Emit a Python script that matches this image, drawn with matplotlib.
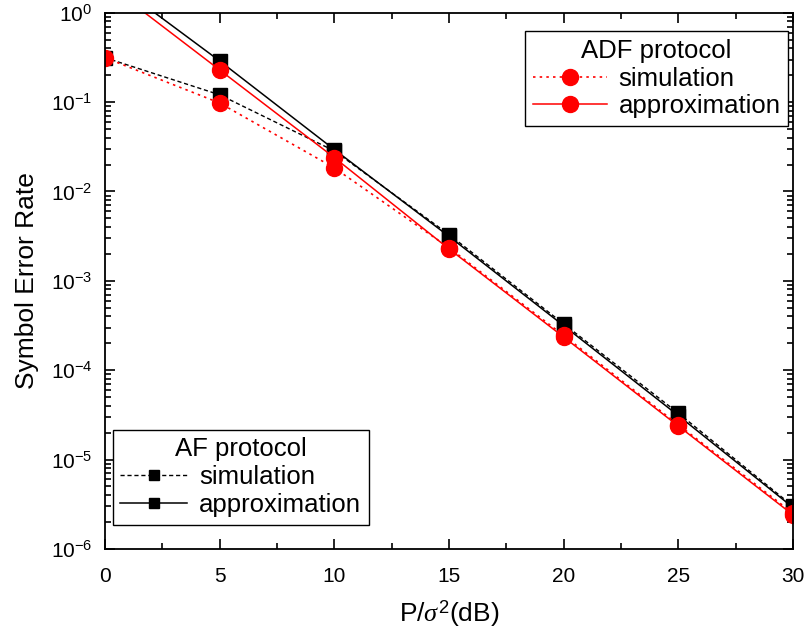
import matplotlib
matplotlib.use('Agg')
import matplotlib.pyplot as plt
from matplotlib.ticker import MultipleLocator, LogLocator, NullFormatter, FixedLocator

plt.rcParams['font.family'] = ['Liberation Sans', 'DejaVu Sans']
plt.rcParams['mathtext.fontset'] = 'custom'
plt.rcParams['mathtext.rm'] = 'Liberation Sans'
plt.rcParams['mathtext.it'] = 'Liberation Serif:italic'

snr = [0, 5, 10, 15, 20, 25, 30]
af_sim = [0.315, 0.121, 0.0285, 3.3e-3, 3.3e-4, 3.3e-5, 3.0e-6]
af_approx = [2.6, 0.29, 0.0295, 3.15e-3, 3.15e-4, 3.1e-5, 2.9e-6]
adf_sim = [0.315, 0.098, 0.0184, 2.35e-3, 2.45e-4, 2.45e-5, 2.5e-6]
adf_approx = [2.2, 0.23, 0.024, 2.28e-3, 2.35e-4, 2.37e-5, 2.4e-6]
decades = range(-6, 1)

fig = plt.figure(figsize=(8.06, 6.39), dpi=100)
ax = fig.add_axes([0.130, 0.141, 0.854, 0.839])

l1, = ax.plot(snr, af_sim, color='black', ls=(0, (3, 2)), lw=1,
              marker='s', ms=9.5, label='simulation')
l2, = ax.plot(snr, af_approx, color='black', ls='-', lw=1.1,
              marker='s', ms=9.5, label='approximation')
l3, = ax.plot(snr, adf_sim, color='red', ls=(0, (1.5, 2.5)), lw=1.2,
              marker='o', ms=11.5, label='simulation')
l4, = ax.plot(snr, adf_approx, color='red', ls='-', lw=1.1,
              marker='o', ms=11.5, label='approximation')

ax.set_yscale('log')
ax.set_xlim(0, 30)
ax.set_ylim(1e-6, 1)
ax.xaxis.set_major_locator(MultipleLocator(5))
ax.xaxis.set_minor_locator(MultipleLocator(2.5))
ax.yaxis.set_major_locator(FixedLocator([10.0 ** k for k in decades]))
ax.yaxis.set_minor_locator(LogLocator(base=10, subs=range(2, 10), numticks=20))
ax.yaxis.set_minor_formatter(NullFormatter())
ax.tick_params(which='both', direction='in', top=True, right=True, labelsize=15, width=1.2)
ax.tick_params(which='major', length=7)
ax.tick_params(which='minor', length=4)
ax.tick_params(axis='x', pad=13)
ax.tick_params(axis='y', pad=9)
for s in ax.spines.values():
    s.set_linewidth(1.3)

ax.set_xlabel(r'P/$\sigma^2$(dB)', fontsize=19, labelpad=9)
ax.set_ylabel('Symbol Error Rate', fontsize=19, labelpad=8)

leg1 = ax.legend(handles=[l3, l4], title='ADF protocol', loc='upper right',
                 bbox_to_anchor=(0.993, 0.966), fontsize=18.5, title_fontsize=18.5,
                 fancybox=False, edgecolor='black', framealpha=1,
                 handlelength=2.9, handletextpad=0.45, borderpad=0.3,
                 labelspacing=0.15, borderaxespad=0)
leg1.get_frame().set_linewidth(1.0)
ax.add_artist(leg1)

leg2 = ax.legend(handles=[l1, l2], title='AF protocol', loc='lower left',
                 bbox_to_anchor=(0.0116, 0.045), fontsize=18.5, title_fontsize=18.5,
                 fancybox=False, edgecolor='black', framealpha=1,
                 handlelength=2.6, handletextpad=0.45, borderpad=0.3,
                 labelspacing=0.15, borderaxespad=0, markerscale=0.75)
leg2.get_frame().set_linewidth(1.0)

fig.savefig('out.png', dpi=100)
